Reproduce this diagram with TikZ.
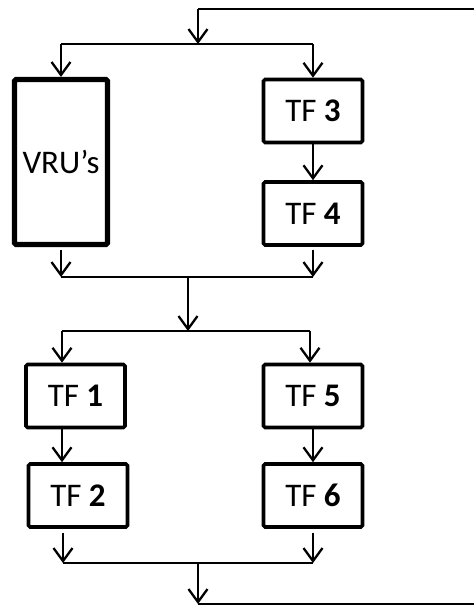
\documentclass[tikz,border=0pt]{standalone}
\usepackage{fontspec}
\setmainfont{Carlito}
\usetikzlibrary{arrows.meta}
\begin{document}
\begin{tikzpicture}[x=0.5pt, y=-0.5pt,
    wire/.style={line width=1.15pt},
    conn/.style={wire, -{Straight Barb[length=6.5pt,width=9.5pt]}},
    tfbox/.style={draw, line width=1.8pt, rounded corners=0.8pt, inner sep=0pt,
      minimum width=49.5pt, minimum height=31.5pt, font=\fontsize{16.5}{19}\selectfont},
    vrubox/.style={tfbox, line width=2.6pt, minimum width=46.5pt, minimum height=82.5pt}]
  \useasboundingbox (0,0) rectangle (473,606);
  % Stage 1: VRU's next to TF 3 -> TF 4
  \node[vrubox] (vru) at (61,162) {VRU’s};
  \node[tfbox] (tf3) at (313,111) {TF \textbf{3}};
  \node[tfbox] (tf4) at (313,213.5) {TF \textbf{4}};
  \coordinate (inR) at (480,9);   \coordinate (inD) at (198,9);
  \coordinate (s1) at (198,44);   \coordinate (s1l) at (61,44);   \coordinate (s1r) at (313,44);
  \coordinate (m1l) at (61,277);  \coordinate (m1r) at (313,277); \coordinate (m1) at (188,277);
  \draw[wire] (inR) -- (inD);
  \draw[conn] (inD) -- (s1);
  \draw[wire] (s1l) -- (s1r);
  \draw[conn] (s1l) -- (s1l |- vru.north);
  \draw[conn] (s1r) -- (s1r |- tf3.north);
  \draw[conn] (tf3.south) -- (tf4.north);
  \draw[conn] ([yshift=-1.5pt]vru.south) -- (m1l);
  \draw[conn] ([yshift=-1.5pt]tf4.south) -- (m1r);
  \draw[wire] (m1l) -- (m1r);
  % Stage 2: TF 1 -> TF 2 next to TF 5 -> TF 6
  \node[tfbox] (tf1) at (75.5,396) {TF \textbf{1}};
  \node[tfbox] (tf2) at (78,495.5) {TF \textbf{2}};
  \node[tfbox] (tf5) at (313,396) {TF \textbf{5}};
  \node[tfbox] (tf6) at (313,495.5) {TF \textbf{6}};
  \coordinate (s2) at (188,331);  \coordinate (s2l) at (62,331);  \coordinate (s2r) at (310,331);
  \coordinate (m2l) at (63,563);  \coordinate (m2r) at (313,563); \coordinate (m2) at (198,563);
  \coordinate (outD) at (198,604); \coordinate (outR) at (480,604);
  \draw[conn] (m1) -- (s2);
  \draw[wire] (s2l) -- (s2r);
  \draw[conn] (s2l) -- (s2l |- tf1.north);
  \draw[conn] (s2r) -- (s2r |- tf5.north);
  \draw[conn] (s2l |- tf1.south) -- (s2l |- tf2.north);
  \draw[conn] (tf5.south) -- (tf6.north);
  \draw[conn] ([yshift=-2pt]m2l |- tf2.south) -- (m2l);
  \draw[conn] ([yshift=-2pt]tf6.south) -- (m2r);
  \draw[wire] (m2l) -- (m2r);
  \draw[conn] (m2) -- (outD);
  \draw[wire] (outD) -- (outR);
\end{tikzpicture}
\end{document}
